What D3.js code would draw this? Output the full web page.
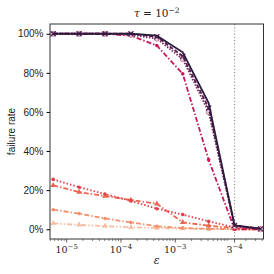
<!DOCTYPE html>
<html>
<head>
<meta charset="utf-8">
<script src="https://cdn.jsdelivr.net/npm/d3@7"></script>
<style>
  body { margin: 0; background: #fff; }
  svg { display: block; }
  .tick text { font-family: "Liberation Sans", Arial, sans-serif; }
</style>
</head>
<body>
<svg width="274" height="274"></svg>
<script>
// epsilon values: 3^-11 ... 3^-3
var epsExp = [-11, -10, -9, -8, -7, -6, -5, -4, -3];

var sDark     = [1.00, 1.00, 1.00, 1.00, 0.990, 0.905, 0.645, 0.020, 0.003];
var sPurple   = [1.00, 1.00, 1.00, 1.00, 0.985, 0.885, 0.620, 0.020, 0.002];
var sMagenta  = [1.00, 1.00, 1.00, 0.995, 0.975, 0.870, 0.600, 0.015, 0.000];
var sCrimson  = [1.00, 1.00, 1.00, 0.990, 0.940, 0.795, 0.355, 0.000, 0.000];
var sRed      = [0.255, 0.215, 0.180, 0.145, 0.105, 0.075, 0.040, 0.010, 0.004];
var sOrange   = [0.225, 0.190, 0.170, 0.150, 0.130, 0.035, 0.018, 0.006, 0.002];
var sSalmon   = [0.100, 0.080, 0.055, 0.035, 0.015, 0.006, 0.002, 0.000, 0.000];
var sPeach    = [0.030, 0.022, 0.016, 0.010, 0.006, 0.003, 0.001, 0.000, 0.000];

var yTicks = [0, 0.2, 0.4, 0.6, 0.8, 1.0];
var xTickExp = [-5, -4, -3];

var series = [
  {v: sDark,    c: "#2c1b3c", dash: null,            mk: "none"},
  {v: sPurple,  c: "#561d50", dash: "4,2",           mk: "x"},
  {v: sMagenta, c: "#86205e", dash: "1.5,1.5",       mk: "o"},
  {v: sCrimson, c: "#c8185b", dash: "5,2,1.5,2",     mk: "dot"},
  {v: sRed,     c: "#e3404a", dash: "1.5,2",         mk: "dot"},
  {v: sOrange,  c: "#ef6450", dash: "5,2,1.5,2",     mk: "tri"},
  {v: sSalmon,  c: "#f4906c", dash: "5,2,1.5,2",     mk: "dot"},
  {v: sPeach,   c: "#f7bd9f", dash: "5,2,1.5,2,1.5,2", mk: "y"}
];

var svg = d3.select("svg");
var mLeft = 50, mRight = 263.5, mTop = 24, mBottom = 239;

var x = d3.scaleLog()
    .domain([Math.pow(10, -5.307), Math.pow(10, -1.376)])
    .range([mLeft, mRight]);
var y = d3.scaleLinear()
    .domain([-0.05, 1.05])
    .range([mBottom, mTop]);

var xs = epsExp.map(function(k) { return Math.pow(3, k); });

// vertical marker at 3^-4
svg.append("line")
    .attr("x1", x(Math.pow(3, -4))).attr("x2", x(Math.pow(3, -4)))
    .attr("y1", mTop).attr("y2", mBottom)
    .attr("stroke", "#999").attr("stroke-width", 1.2)
    .attr("stroke-dasharray", "1.2,2");

var line = d3.line()
    .x(function(d, i) { return x(xs[i]); })
    .y(function(d) { return y(d); });

var plot = svg.append("g");

// draw lower series first, dark on top
series.slice().reverse().forEach(function(s) {
  plot.append("path")
      .datum(s.v)
      .attr("d", line)
      .attr("fill", "none")
      .attr("stroke", s.c)
      .attr("stroke-width", 1.8)
      .attr("stroke-dasharray", s.dash);

  var g = plot.append("g");
  s.v.forEach(function(v, i) {
    var px = x(xs[i]), py = y(v);
    if (s.mk === "dot") {
      g.append("circle").attr("cx", px).attr("cy", py).attr("r", 1.8).attr("fill", s.c);
    } else if (s.mk === "o") {
      g.append("circle").attr("cx", px).attr("cy", py).attr("r", 2.6)
          .attr("fill", "#e6c8d8").attr("stroke", "#b77a9c").attr("stroke-width", 0.8);
    } else if (s.mk === "x") {
      g.append("path").attr("d", d3.symbol(d3.symbolX, 18)()).attr("transform", "translate(" + px + "," + py + ")")
          .attr("stroke", s.c).attr("stroke-width", 1.2).attr("fill", "none");
    } else if (s.mk === "tri") {
      g.append("path").attr("d", d3.symbol(d3.symbolTriangle, 14)()).attr("transform", "translate(" + px + "," + py + ")")
          .attr("fill", s.c);
    } else if (s.mk === "y") {
      g.append("path").attr("d", d3.symbol(d3.symbolWye, 14)()).attr("transform", "translate(" + px + "," + py + ") rotate(180)")
          .attr("fill", s.c);
    }
  });
});

// frame
svg.append("rect")
    .attr("x", mLeft).attr("y", mTop)
    .attr("width", mRight - mLeft).attr("height", mBottom - mTop)
    .attr("fill", "none").attr("stroke", "#333").attr("stroke-width", 1);

// y axis
var yAxis = svg.append("g")
    .attr("transform", "translate(" + mLeft + ",0)")
    .call(d3.axisLeft(y).tickValues(yTicks).tickSize(3.5).tickPadding(3)
      .tickFormat(function(d) { return Math.round(d * 100) + "%"; }));
yAxis.select(".domain").remove();
yAxis.selectAll("text").attr("font-size", 10).attr("fill", "#222");

// x axis: minor ticks
var minor = [];
for (var e = -6; e <= -1; e++) {
  for (var m = 2; m <= 9; m++) {
    var v = m * Math.pow(10, e);
    if (v >= x.domain()[0] && v <= x.domain()[1]) minor.push(v);
  }
}
var xAxisG = svg.append("g").attr("transform", "translate(0," + mBottom + ")");
xAxisG.selectAll("line.minor")
    .data(minor).enter().append("line")
    .attr("x1", function(d) { return x(d); }).attr("x2", function(d) { return x(d); })
    .attr("y1", 0).attr("y2", 2)
    .attr("stroke", "#333").attr("stroke-width", 0.6);

var majors = xTickExp.map(function(k) { return {v: Math.pow(10, k), base: "10", exp: "\u2212" + (-k)}; });
majors.push({v: Math.pow(3, -4), base: "3", exp: "\u22124"});

xAxisG.selectAll("line.major")
    .data(majors).enter().append("line")
    .attr("x1", function(d) { return x(d.v); }).attr("x2", function(d) { return x(d.v); })
    .attr("y1", 0).attr("y2", 3.5)
    .attr("stroke", "#333").attr("stroke-width", 0.8);

var lbl = xAxisG.selectAll("text.major")
    .data(majors).enter().append("text")
    .attr("x", function(d) { return x(d.v); })
    .attr("y", 14)
    .attr("text-anchor", "middle")
    .attr("font-family", "'DejaVu Serif', serif")
    .attr("font-size", 9.5)
    .attr("fill", "#222");
lbl.append("tspan").text(function(d) { return d.base; });
lbl.append("tspan").attr("dy", -4).attr("font-size", 7).text(function(d) { return d.exp; });

// labels
svg.append("text")
    .attr("x", (mLeft + mRight) / 2).attr("y", 264)
    .attr("text-anchor", "middle")
    .attr("font-family", "'DejaVu Serif', serif").attr("font-style", "italic")
    .attr("font-size", 11).attr("fill", "#222")
    .text("\u03b5");

svg.append("text")
    .attr("transform", "translate(15," + ((mTop + mBottom) / 2) + ") rotate(-90)")
    .attr("text-anchor", "middle")
    .attr("font-family", "'Liberation Sans', Arial, sans-serif")
    .attr("font-size", 10).attr("fill", "#222")
    .text("failure rate");

var title = svg.append("text")
    .attr("x", (mLeft + mRight) / 2).attr("y", 17)
    .attr("text-anchor", "middle")
    .attr("font-family", "'DejaVu Serif', serif")
    .attr("font-size", 10.5).attr("fill", "#222");
title.append("tspan").attr("font-style", "italic").text("\u03c4");
title.append("tspan").text(" = 10");
title.append("tspan").attr("dy", -4).attr("font-size", 7.5).text("\u22122");
</script>
</body>
</html>
